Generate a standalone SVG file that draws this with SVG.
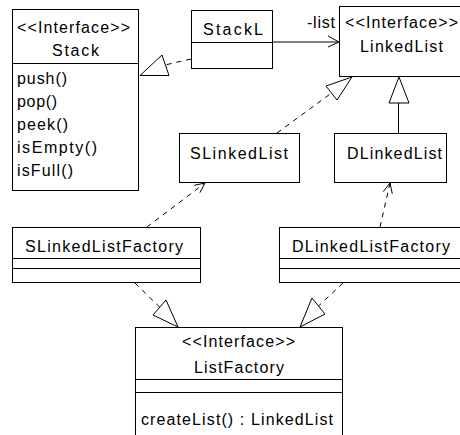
<svg xmlns="http://www.w3.org/2000/svg" width="460" height="435" viewBox="0 0 460 435">
  <style>
    .box { fill: #ffffff; stroke: #000000; stroke-width: 1; }
    .sep { stroke: #000000; stroke-width: 1; }
    .t { font-family: "Liberation Sans", Arial, sans-serif; font-size: 16px; fill: #000000; }
    .solid { fill: none; stroke: #000000; stroke-width: 1; }
    .dash { fill: none; stroke: #000000; stroke-width: 1; stroke-dasharray: 5 5; }
    .tri { fill: #ffffff; stroke: #000000; stroke-width: 1; stroke-linejoin: miter; }
  </style>
  <rect width="460" height="435" fill="#ffffff"/>

  <!-- connectors -->
  <g id="connectors">
    <!-- StackL realizes Stack -->
    <line class="dash" x1="191" y1="59" x2="165" y2="65"/>
    <polygon class="tri" points="140,75.5 162,55 169,75.5"/>
    <!-- StackL -list association to LinkedList -->
    <line class="solid" x1="272.5" y1="42" x2="339" y2="42"/>
    <polyline class="solid" points="328,36 339,42 328,47"/>
    <text class="t" x="307" y="28" textLength="28">-list</text>
    <!-- SLinkedList realizes LinkedList -->
    <line class="dash" x1="277" y1="133" x2="331.5" y2="93"/>
    <polygon class="tri" points="352,77 326,86 337,100"/>
    <!-- DLinkedList extends LinkedList -->
    <line class="solid" x1="398.5" y1="133.5" x2="398.5" y2="103"/>
    <polygon class="tri" points="399,77 389,103 409,103"/>
    <!-- SLinkedListFactory uses SLinkedList -->
    <line class="dash" x1="147" y1="227" x2="205" y2="183"/>
    <polyline class="solid" points="194.3,185.3 205,183 199.9,192.7"/>
    <!-- DLinkedListFactory uses DLinkedList -->
    <line class="dash" x1="380" y1="227" x2="390" y2="183"/>
    <polyline class="solid" points="383.2,191.7 390,183 392.3,193.8"/>
    <!-- factories realize ListFactory -->
    <line class="dash" x1="135" y1="283" x2="160" y2="307.5"/>
    <polygon class="tri" points="178,327 153,315 166,300"/>
    <line class="dash" x1="343" y1="283" x2="318.5" y2="306"/>
    <polygon class="tri" points="300,327 312,298 325,314"/>
  </g>

  <!-- Stack interface -->
  <g id="stack">
    <rect class="box" x="12.5" y="9.5" width="126" height="181"/>
    <line class="sep" x1="12.5" y1="63.5" x2="138.5" y2="63.5"/>
    <text class="t" x="17" y="33" textLength="113">&lt;&lt;Interface&gt;&gt;</text>
    <text class="t" x="52" y="56" textLength="47">Stack</text>
    <text class="t" x="17" y="84" textLength="50">push()</text>
    <text class="t" x="17" y="107" textLength="40">pop()</text>
    <text class="t" x="17" y="130" textLength="51">peek()</text>
    <text class="t" x="17" y="153" textLength="80">isEmpty()</text>
    <text class="t" x="17" y="176" textLength="56">isFull()</text>
  </g>

  <!-- StackL class -->
  <g id="stackl">
    <rect class="box" x="191.5" y="10.5" width="81" height="58"/>
    <line class="sep" x1="191.5" y1="42.5" x2="272.5" y2="42.5"/>
    <text class="t" x="203" y="35" textLength="60">StackL</text>
  </g>

  <!-- LinkedList interface -->
  <g id="linkedlist">
    <rect class="box" x="339.5" y="6.5" width="130" height="70"/>
    <text class="t" x="345" y="28" textLength="113">&lt;&lt;Interface&gt;&gt;</text>
    <text class="t" x="360" y="52" textLength="83">LinkedList</text>
  </g>

  <!-- SLinkedList class -->
  <g id="slinkedlist">
    <rect class="box" x="179.5" y="133.5" width="120" height="49"/>
    <text class="t" x="190" y="159" textLength="98">SLinkedList</text>
  </g>

  <!-- DLinkedList class -->
  <g id="dlinkedlist">
    <rect class="box" x="334.5" y="133.5" width="112" height="49"/>
    <text class="t" x="347" y="159" textLength="95">DLinkedList</text>
  </g>

  <!-- SLinkedListFactory class -->
  <g id="slinkedlistfactory">
    <rect class="box" x="12.5" y="227.5" width="188" height="55"/>
    <line class="sep" x1="12.5" y1="258.5" x2="200.5" y2="258.5"/>
    <line class="sep" x1="12.5" y1="268.5" x2="200.5" y2="268.5"/>
    <text class="t" x="25" y="252" textLength="158">SLinkedListFactory</text>
  </g>

  <!-- DLinkedListFactory class -->
  <g id="dlinkedlistfactory">
    <rect class="box" x="279.5" y="227.5" width="190" height="55"/>
    <line class="sep" x1="279.5" y1="258.5" x2="469.5" y2="258.5"/>
    <line class="sep" x1="279.5" y1="268.5" x2="469.5" y2="268.5"/>
    <text class="t" x="292" y="252" textLength="158">DLinkedListFactory</text>
  </g>

  <!-- ListFactory interface -->
  <g id="listfactory">
    <rect class="box" x="135.5" y="327.5" width="207" height="120"/>
    <line class="sep" x1="135.5" y1="379.5" x2="342.5" y2="379.5"/>
    <line class="sep" x1="135.5" y1="392.5" x2="342.5" y2="392.5"/>
    <text class="t" x="182" y="347" textLength="113">&lt;&lt;Interface&gt;&gt;</text>
    <text class="t" x="194" y="373" textLength="90">ListFactory</text>
    <text class="t" x="141" y="425" textLength="192">createList() : LinkedList</text>
  </g>
</svg>
